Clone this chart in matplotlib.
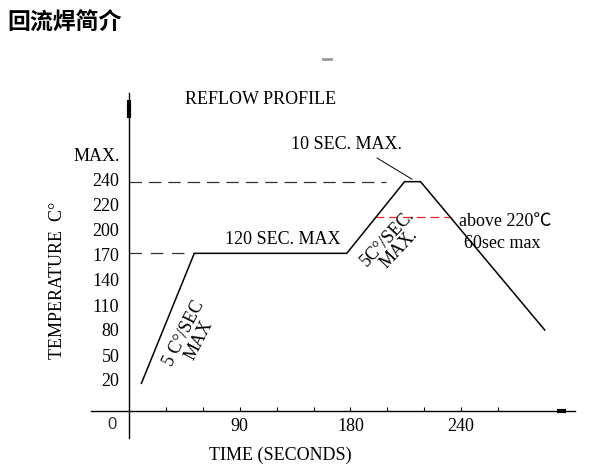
import matplotlib.pyplot as plt

# reflow profile (time in s, temperature on the drawn scale)
profile_time = [10, 53, 177, 224, 237, 338]
profile_temp = [16, 172, 172, 258, 258, 80]

# y ticks are evenly spaced on the drawing even though the values are not
ytick_pos = [20, 50, 80, 110, 140, 170, 200, 230, 260, 290]
ytick_labels = ['20', '50', '80', '110', '140', '170', '200', '220', '240', 'MAX.']

xtick_pos = [90, 180, 270]
xtick_labels = ['90', '180', '240']
xminor_pos = [30, 60, 90, 120, 150, 180, 210, 240, 270, 300]

peak_level = 258      # dashed guide for 240
soak_level = 172      # dashed guide for 170
liquidus_level = 216  # red dashed guide for 220

serif = ['Liberation Serif', 'Noto Sans CJK SC', 'DejaVu Sans']
fs = 13

fig = plt.figure(figsize=(5.97, 4.67), dpi=100)
ax = fig.add_axes([0, 0, 1, 1])
ax.set_xlim(-105, 380.5)
ax.set_ylim(-84.4, 476)

# axes drawn as spines through the origin
for s in ['top', 'right']:
    ax.spines[s].set_visible(False)
ax.spines['left'].set_position(('data', 0))
ax.spines['left'].set_bounds(-50, 364)
ax.spines['bottom'].set_position(('data', -17))
ax.spines['bottom'].set_bounds(-31, 363)
for s in ['left', 'bottom']:
    ax.spines[s].set_linewidth(1.0)

ax.set_yticks(ytick_pos)
ax.set_yticklabels(ytick_labels, family=serif, fontsize=fs)
ax.tick_params(axis='y', length=0, pad=7)

ax.set_xticks(xtick_pos)
ax.set_xticklabels(xtick_labels, family=serif, fontsize=fs)
ax.set_xticks(xminor_pos, minor=True)
ax.tick_params(axis='x', which='both', direction='in', length=3, width=0.8, pad=5)

# the crude "arrow heads"
ax.plot([0, 0], [334, 356], color='black', lw=3, solid_capstyle='butt')
ax.plot([348, 355], [-17, -17], color='black', lw=3, solid_capstyle='butt')

# guides
ax.plot([0, 209], [peak_level, peak_level], color='#333333', lw=0.9, dashes=(10, 5.5))
ax.plot([0, 53], [soak_level, soak_level], color='#333333', lw=0.9, dashes=(10, 7))
ax.plot([200, 262], [liquidus_level, liquidus_level], color='#e8262a', lw=0.9, dashes=(7, 4))

# profile
ax.plot(profile_time, profile_temp, color='black', lw=1.1)
ax.plot([201.6, 230], [286.4, 261], color='black', lw=0.7)  # leader to the peak

# labels
ax.text(-13.8, -33, '0', ha='center', va='center', fontsize=12, fontfamily='Liberation Sans', color='#333333')
ax.text(123, -70, 'TIME (SECONDS)', ha='center', va='center', family=serif, fontsize=fs)
ax.text(-58.5, 140, 'TEMPERATURE  C°', ha='center', va='center', rotation=90,
        family=serif, fontsize=fs)
ax.text(45.5, 356, 'REFLOW PROFILE', ha='left', va='center', family=serif, fontsize=fs)
ax.text(177, 302, '10 SEC. MAX.', ha='center', va='center', family=serif, fontsize=fs)
ax.text(78, 188, '120 SEC. MAX', ha='left', va='center', family=serif, fontsize=fs)
ax.text(268, 210, 'above 220℃', ha='left', va='center', family=serif, fontsize=fs)
ax.text(272, 184, '60sec max', ha='left', va='center', family=serif, fontsize=fs)
ax.text(51, 72, '5 C°/SEC\nMAX', ha='center', va='center', rotation=63, rotation_mode='anchor',
        family=serif, fontsize=fs, linespacing=0.95)
ax.text(215, 184, '5C°/SEC.\nMAX.', ha='center', va='center', rotation=47, rotation_mode='anchor',
        family=serif, fontsize=fs, linespacing=0.95)

# stray grey mark in the source image
ax.plot([158, 164], [405, 405], color='#999999', lw=2)

fig.text(0.013, 0.95, '回流焊简介', ha='left', va='center', fontsize=16.5, fontweight='bold',
         family=['Noto Sans CJK SC', 'DejaVu Sans'])

fig.savefig('out.png', dpi=100)
